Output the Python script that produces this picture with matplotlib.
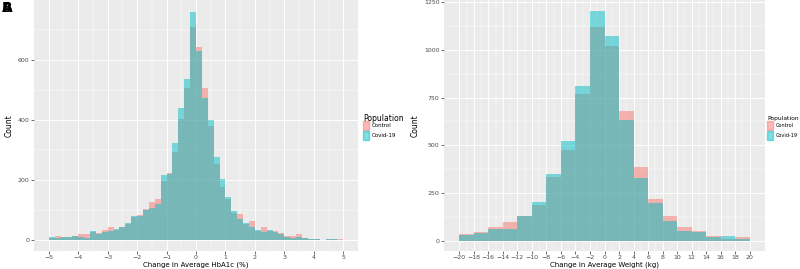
import numpy as np
import matplotlib
matplotlib.use("Agg")
import matplotlib.pyplot as plt

# HbA1c change histogram, bins of 0.2 from -5 to 5
hba1c_edges = np.round(np.arange(-5.0, 5.01, 0.2), 2)
hba1c_control = [7, 14, 10, 12, 15, 23, 23, 27, 26, 34,
                 45, 35, 45, 54, 79, 86, 104, 129, 138, 199,
                 224, 293, 405, 506, 709, 643, 507, 380, 255, 178,
                 139, 93, 88, 55, 64, 33, 44, 33, 33, 24,
                 15, 15, 20, 7, 4, 4, 3, 5, 4, 5]
hba1c_covid = [10, 8, 10, 12, 15, 13, 7, 30, 22, 28,
               32, 37, 44, 57, 82, 82, 101, 109, 123, 219,
               221, 323, 442, 536, 761, 630, 473, 402, 279, 205,
               145, 97, 72, 58, 46, 35, 28, 34, 27, 20,
               13, 9, 10, 8, 4, 4, 3, 6, 6, 3]

# Weight change histogram, bins of 2 kg from -20 to 20
weight_edges = np.arange(-20, 21, 2)
weight_control = [35, 47, 69, 99, 128, 187, 334, 474, 769, 1119,
                  1020, 679, 386, 220, 131, 73, 48, 22, 10, 17]
weight_covid = [28, 42, 59, 59, 130, 204, 349, 524, 811, 1202,
                1075, 633, 328, 195, 100, 48, 45, 19, 22, 9]

groups = ["Control", "Covid-19"]
colors = ["#F8766D", "#00BFC4"]

W, H = 800, 269
fig = plt.figure(figsize=(W / 100, H / 100), dpi=100)


def style_axes(ax, xmajor, xminor, ymajor, yminor):
    ax.set_facecolor("#EBEBEB")
    for s in ax.spines.values():
        s.set_visible(False)
    ax.set_xticks(xmajor)
    ax.set_xticks(xminor, minor=True)
    ax.set_yticks(ymajor)
    ax.set_yticks(yminor, minor=True)
    ax.grid(True, which="major", color="white", lw=0.7)
    ax.grid(True, which="minor", color="white", lw=0.35)
    ax.set_axisbelow(True)
    ax.tick_params(which="major", length=2, width=0.5, color="#333333",
                   labelsize=4.5, labelcolor="#4D4D4D", pad=1.2)
    ax.tick_params(which="minor", length=0)


def draw_hist(ax, edges, series):
    widths = np.diff(edges)
    for vals, c in zip(series, colors):
        ax.bar(edges[:-1], vals, width=widths, align="edge", color=c,
               alpha=0.5, linewidth=0)


def add_legend(x_px, title_size=5.5, label_size=4):
    fig.text(x_px / W, 1 - 118 / H, "Population", fontsize=title_size,
             color="black", va="center", ha="left")
    for i, (g, c) in enumerate(zip(groups, colors)):
        y0 = 121 + i * 10
        fig.patches.append(plt.Rectangle((x_px / W, 1 - (y0 + 9) / H),
                                         6 / W, 9 / H, color=c, alpha=0.5,
                                         transform=fig.transFigure))
        fig.text((x_px + 9) / W, 1 - (y0 + 4.5) / H, g, fontsize=label_size,
                 color="black", va="center", ha="left")


# Panel A
ax1 = fig.add_axes([34 / W, 18 / H, 324 / W, 251 / H])
draw_hist(ax1, hba1c_edges, [hba1c_control, hba1c_covid])
ax1.set_xlim(-5.5, 5.5)
ax1.set_ylim(-35, 800)
style_axes(ax1, np.arange(-5, 6, 1), np.arange(-4.5, 5, 1),
           [0, 200, 400, 600], [100, 300, 500, 700])
ax1.set_xlabel("Change in Average HbA1c (%)", fontsize=5, labelpad=0.5)
ax1.set_ylabel("Count", fontsize=5.5, labelpad=3)
add_legend(363)

# Panel B
ax2 = fig.add_axes([444 / W, 18 / H, 321 / W, 251 / H])
draw_hist(ax2, weight_edges, [weight_control, weight_covid])
ax2.set_xlim(-22.1, 22.1)
ax2.set_ylim(-55, 1262)
style_axes(ax2, np.arange(-20, 21, 2), np.arange(-19, 20, 2),
           [0, 250, 500, 750, 1000, 1250], [125, 375, 625, 875, 1125])
ax2.set_xlabel("Change in Average Weight (kg)", fontsize=5, labelpad=0.5)
ax2.set_ylabel("Count", fontsize=5.5, labelpad=3)
add_legend(767, title_size=4.3, label_size=3.6)

# overlapping panel tags
fig.text(0.002, 0.995, "A", fontsize=10, fontweight="bold", va="top", ha="left")
fig.text(0.002, 0.995, "B", fontsize=10, fontweight="bold", va="top", ha="left")

fig.savefig("out.png", dpi=100)
